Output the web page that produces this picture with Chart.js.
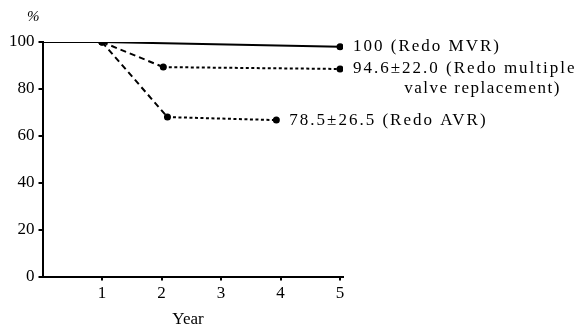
<!DOCTYPE html>
<html lang="en">
<head>
    <meta charset="UTF-8">
    <title>Redo valve survival</title>
    <script src="https://cdn.jsdelivr.net/npm/chart.js"></script>
    <style>
        html, body { margin: 0; padding: 0; background: #fff; }
        #wrap { width: 583px; height: 331px; }
    </style>
</head>
<body>
    <div id="wrap"><canvas id="survivalChart"></canvas></div>

    <script>
        // datos
        const yearTicks = [1, 2, 3, 4, 5];
        const percentTicks = [0, 20, 40, 60, 80, 100];

        const mvrYears = [0, 1, 5];
        const mvrValues = [100, 100, 98];

        const multipleYears = [1, 2.03, 5];
        const multipleValues = [100, 89.3, 88.5];

        const avrYears = [1, 2.1, 3.93];
        const avrValues = [100, 68, 66.7];

        const endLabels = [
            ['100 (Redo MVR)'],
            ['94.6\u00b122.0 (Redo multiple', 'valve replacement)'],
            ['78.5\u00b126.5 (Redo AVR)']
        ];

        const serif = '"Liberation Serif", "DejaVu Serif", serif';

        function toPoints(xs, ys) {
            return xs.map((x, i) => ({ x: x, y: ys[i] }));
        }

        // trazo largo en el primer tramo, punteado despues
        function dashFor(ctx) {
            return ctx.p0.parsed.x >= 1.5 ? [3, 2.5] : [6, 4];
        }

        const labelPlugin = {
            id: 'endLabels',
            afterDatasetsDraw(chart) {
                const c = chart.ctx;
                c.save();
                c.fillStyle = '#000';
                c.font = '17px ' + serif;
                c.letterSpacing = '2px';
                c.textBaseline = 'middle';
                chart.data.datasets.forEach((ds, i) => {
                    const meta = chart.getDatasetMeta(i);
                    const last = meta.data[meta.data.length - 1];
                    const lines = endLabels[i];
                    c.textAlign = 'left';
                    c.fillText(lines[0], last.x + 13, last.y);
                    if (lines[1]) {
                        c.letterSpacing = '1.5px';
                        c.textAlign = 'right';
                        c.fillText(lines[1], 561, last.y + 20);
                        c.letterSpacing = '2px';
                    }
                });
                // titulo del eje x y simbolo de porcentaje
                c.letterSpacing = '0px';
                c.textAlign = 'center';
                c.fillText('Year', 188, 320);
                c.textAlign = 'left';
                c.font = 'italic 15px ' + serif;
                c.fillText('%', 27, 17);
                c.restore();
            }
        };

        new Chart(document.getElementById('survivalChart'), {
            type: 'line',
            data: {
                datasets: [
                    {
                        label: 'Redo MVR',
                        data: toPoints(mvrYears, mvrValues),
                        borderColor: '#000',
                        backgroundColor: '#000',
                        borderWidth: 2,
                        pointRadius: [0, 2.5, 2.5],
                        tension: 0
                    },
                    {
                        label: 'Redo multiple valve replacement',
                        data: toPoints(multipleYears, multipleValues),
                        borderColor: '#000',
                        backgroundColor: '#000',
                        borderWidth: 2,
                        pointRadius: 2.5,
                        segment: { borderDash: dashFor },
                        tension: 0
                    },
                    {
                        label: 'Redo AVR',
                        data: toPoints(avrYears, avrValues),
                        borderColor: '#000',
                        backgroundColor: '#000',
                        borderWidth: 2,
                        pointRadius: 2.5,
                        segment: { borderDash: dashFor },
                        tension: 0
                    }
                ]
            },
            options: {
                responsive: true,
                maintainAspectRatio: false,
                animation: false,
                layout: { padding: { left: 5, top: 42, right: 240, bottom: 24 } },
                plugins: {
                    legend: { display: false },
                    tooltip: { enabled: false }
                },
                scales: {
                    x: {
                        type: 'linear',
                        min: 0,
                        max: 5.05,
                        afterBuildTicks: axis => { axis.ticks = yearTicks.map(v => ({ value: v })); },
                        grid: { drawOnChartArea: false, color: '#000', tickLength: 4, lineWidth: 2 },
                        border: { color: '#000', width: 2 },
                        ticks: { color: '#000', font: { family: serif, size: 17 }, padding: 3 }
                    },
                    y: {
                        min: 0,
                        max: 100,
                        afterBuildTicks: axis => { axis.ticks = percentTicks.map(v => ({ value: v })); },
                        grid: { drawOnChartArea: false, color: '#000', tickLength: 4, lineWidth: 2 },
                        border: { color: '#000', width: 2 },
                        ticks: { color: '#000', font: { family: serif, size: 17 }, padding: 4 }
                    }
                }
            },
            plugins: [labelPlugin]
        });
    </script>
</body>
</html>
